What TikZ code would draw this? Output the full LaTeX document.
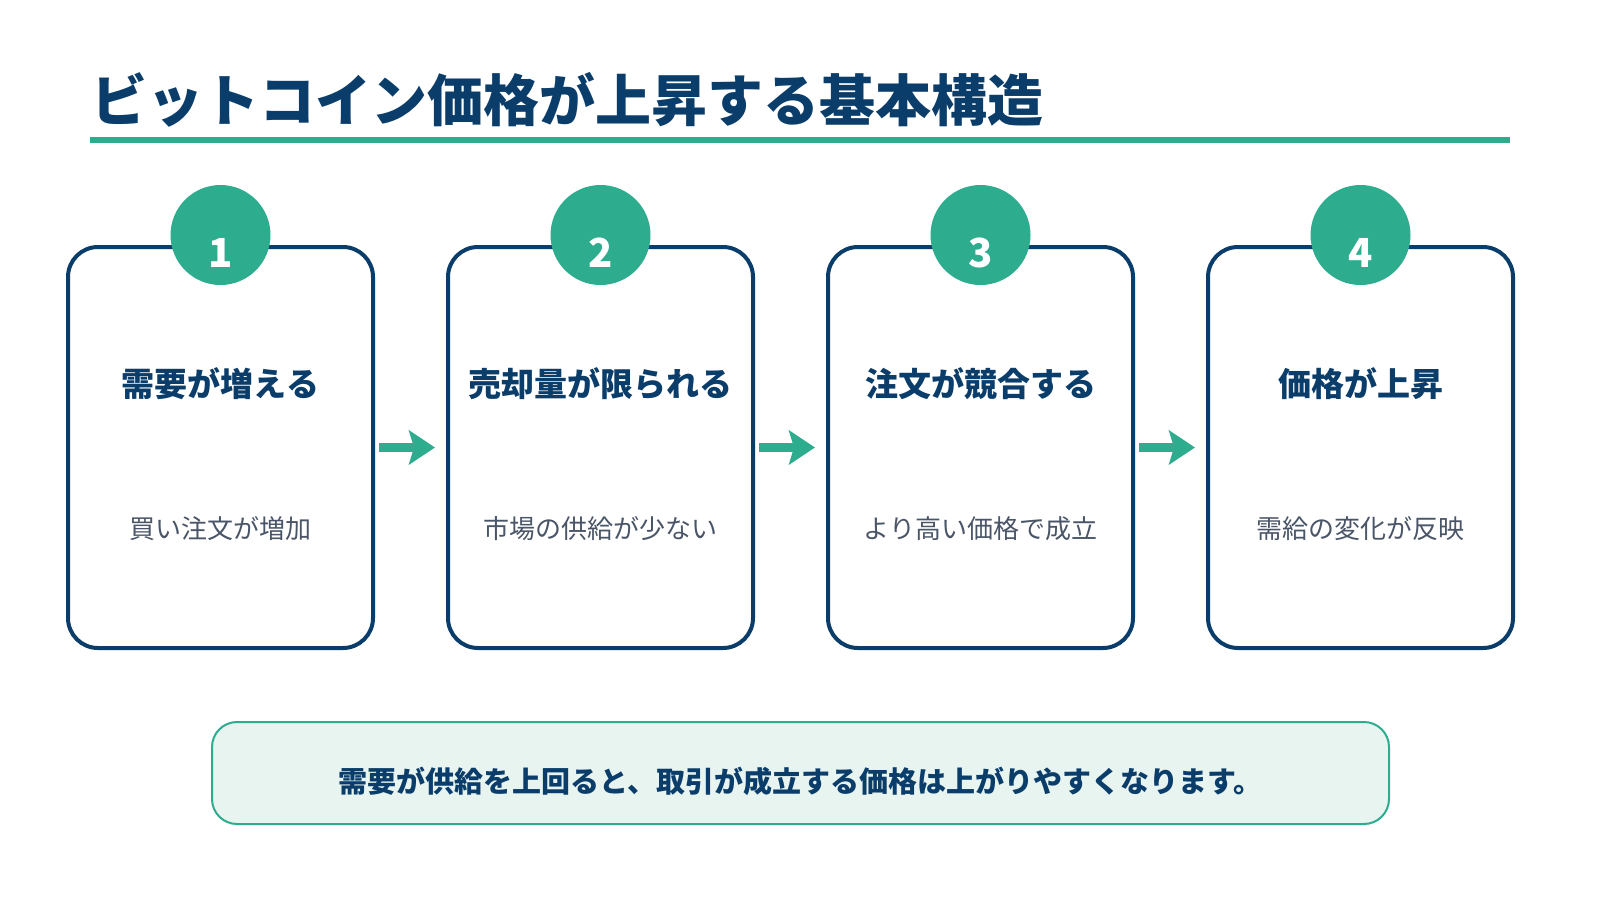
\documentclass[tikz,border=0pt]{standalone}
\usepackage{fontspec}
\setmainfont{Noto Sans CJK JP}
\usetikzlibrary{positioning, arrows.meta}
\definecolor{navy}{HTML}{0B3D6B}
\definecolor{teal}{HTML}{2EAC8E}
\definecolor{subgray}{HTML}{4A5568}
\definecolor{mint}{HTML}{E8F4F0}

\begin{document}
\begin{tikzpicture}[x=1pt, y=-1pt,
	card/.style={draw=navy, line width=4pt, rounded corners=30pt, outer sep=0pt,
		minimum width=305pt, minimum height=401pt},
	badge/.style={circle, fill=teal, minimum size=100pt, inner sep=0pt},
	num/.style={text=white, font=\fontsize{40pt}{44pt}\selectfont\bfseries},
	head/.style={text=navy, font=\fontsize{33pt}{38pt}\selectfont\bfseries},
	sub/.style={text=subgray, font=\fontsize{26pt}{30pt}\selectfont},
	flow/.style={draw=teal, line width=9pt, -{Stealth[length=26pt,width=34pt,inset=5pt]},
		shorten <=6pt, shorten >=13pt}]
	\useasboundingbox (0,0) rectangle (1600,900);

	% title
	\node[anchor=west, inner sep=0pt, text=navy, font=\fontsize{56pt}{60pt}\selectfont\bfseries]
		(title) at (91,100) {ビットコイン価格が上昇する基本構造};
	\draw[teal, line width=6pt] (90,140) -- (1510,140);

	% cards
	\node[card] (c1) at (220.5,447.5) {};
	\node[card, right=75pt of c1] (c2) {};
	\node[card, right=75pt of c2] (c3) {};
	\node[card, right=75pt of c3] (c4) {};

	\node[badge] (n1) at ([yshift=12pt]c1.north) {};
	\node[badge] (n2) at ([yshift=12pt]c2.north) {};
	\node[badge] (n3) at ([yshift=12pt]c3.north) {};
	\node[badge] (n4) at ([yshift=12pt]c4.north) {};
	\node[num] (d1) at ([yshift=-18pt]n1.center) {1};
	\node[num] (d2) at ([yshift=-18pt]n2.center) {2};
	\node[num] (d3) at ([yshift=-18pt]n3.center) {3};
	\node[num] (d4) at ([yshift=-18pt]n4.center) {4};

	\node[head] (t1) at ([yshift=64pt]c1.center) {需要が増える};
	\node[head] (t2) at ([yshift=64pt]c2.center) {売却量が限られる};
	\node[head] (t3) at ([yshift=64pt]c3.center) {注文が競合する};
	\node[head] (t4) at ([yshift=64pt]c4.center) {価格が上昇};

	\node[sub] (s1) at ([yshift=-81pt]c1.center) {買い注文が増加};
	\node[sub] (s2) at ([yshift=-81pt]c2.center) {市場の供給が少ない};
	\node[sub] (s3) at ([yshift=-81pt]c3.center) {より高い価格で成立};
	\node[sub] (s4) at ([yshift=-81pt]c4.center) {需給の変化が反映};

	\draw[flow] (c1.east) -- (c2.west);
	\draw[flow] (c2.east) -- (c3.west);
	\draw[flow] (c3.east) -- (c4.west);

	% summary
	\node[draw=teal, line width=2pt, fill=mint, rounded corners=25pt,
		minimum width=1177pt, minimum height=102pt] (note) at (800.5,773) {};
	\node[text=navy, font=\fontsize{29pt}{34pt}\selectfont\bfseries] (msg)
		at ([yshift=-8pt]note.center)
		{需要が供給を上回ると、取引が成立する価格は上がりやすくなります。};
\end{tikzpicture}
\end{document}
